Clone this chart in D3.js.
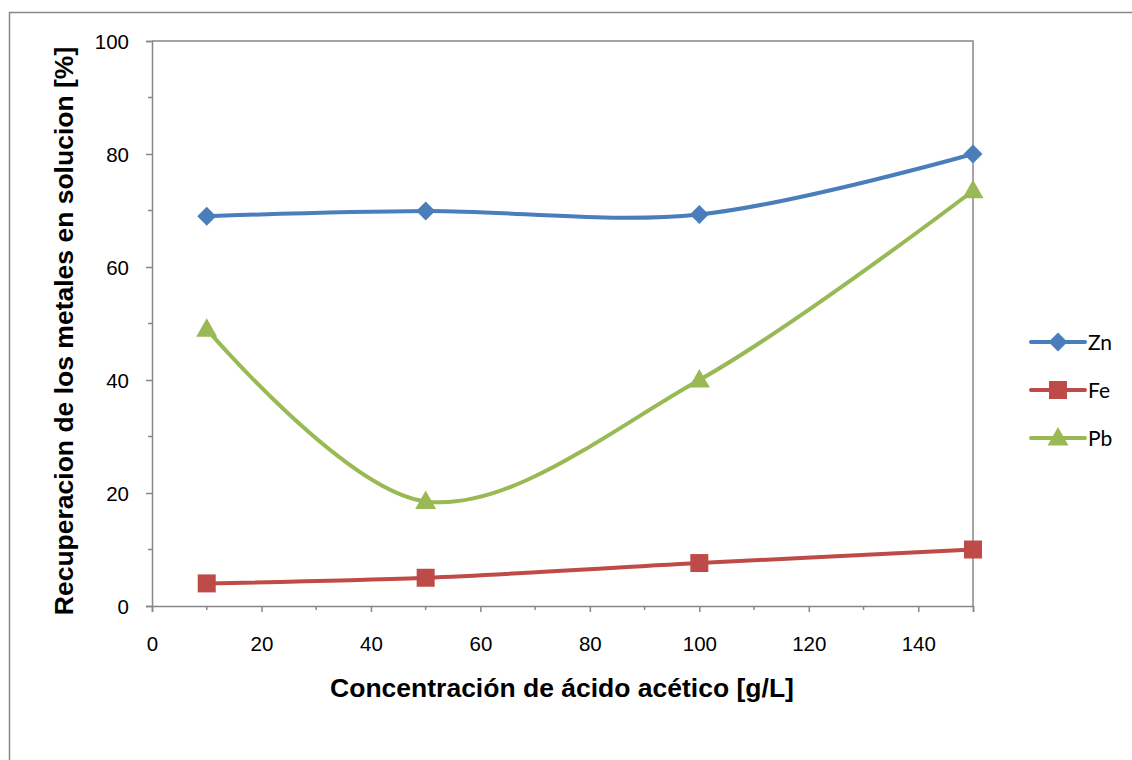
<!DOCTYPE html>
<html>
<head>
<meta charset="utf-8">
<script src="https://cdn.jsdelivr.net/npm/d3@7"></script>
<style>
  body { margin: 0; background: #fff; }
  svg { display: block; }
</style>
</head>
<body>
<div id="chart"></div>
<script>
// data
const concentracion = [10, 50, 100, 150];
const zn = [69.0, 69.9, 69.3, 80.0];
const fe = [4.0, 5.0, 7.6, 10.0];
const pb = [49.0, 18.5, 40.0, 73.5];
const seriesNames = ["Zn", "Fe", "Pb"];
const xTicks = [0, 20, 40, 60, 80, 100, 120, 140];
const yTicks = [0, 20, 40, 60, 80, 100];

const width = 1132, height = 760;
const margin = { top: 41, left: 152, right: 159, bottom: 154 };

const svg = d3.select("#chart").append("svg")
  .attr("width", width).attr("height", height);

// outer chart frame (right/bottom edges fall outside the picture)
svg.append("path")
  .attr("d", `M9.5,${height + 5} V12.5 H${width + 5}`)
  .attr("fill", "none").attr("stroke", "#868686").attr("stroke-width", 1.5);

const x = d3.scaleLinear().domain([0, 150]).range([margin.left, width - margin.right]);
const y = d3.scaleLinear().domain([0, 100]).range([height - margin.bottom, margin.top]);

// plot box top + right
svg.append("path")
  .attr("d", `M${x(0)},${y(100)} H${x(150)} V${y(0)}`)
  .attr("fill", "none").attr("stroke", "#868686").attr("stroke-width", 1.5);

// minor ticks
const minorX = d3.range(10, 150, 20);
const minorY = d3.range(10, 100, 20);
svg.append("g").selectAll("line").data(minorX).join("line")
  .attr("x1", d => x(d)).attr("x2", d => x(d))
  .attr("y1", y(0)).attr("y2", y(0) + 4)
  .attr("stroke", "#868686").attr("stroke-width", 1.5);
svg.append("g").selectAll("line").data(minorY).join("line")
  .attr("x1", x(0) - 4).attr("x2", x(0))
  .attr("y1", d => y(d)).attr("y2", d => y(d))
  .attr("stroke", "#868686").attr("stroke-width", 1.5);

const xAxis = d3.axisBottom(x).tickValues(xTicks.concat([150])).tickSize(6)
  .tickFormat(d => xTicks.includes(d) ? d : "");
const yAxis = d3.axisLeft(y).tickValues(yTicks).tickSize(6);

const gx = svg.append("g").attr("transform", `translate(0,${y(0)})`).call(xAxis);
const gy = svg.append("g").attr("transform", `translate(${x(0)},0)`).call(yAxis);
[gx, gy].forEach(g => {
  g.select(".domain").attr("stroke", "#868686").attr("stroke-width", 1.5);
  g.selectAll(".tick line").attr("stroke", "#868686").attr("stroke-width", 1.5);
  g.selectAll("text").attr("fill", "#000")
    .style("font-family", "'Liberation Sans', Arial, sans-serif").style("font-size", "20.5px");
});
gx.selectAll("text").attr("dy", "0").attr("y", 45);
gy.selectAll("text").attr("x", -23).attr("dy", "0.35em");

// titles
svg.append("text")
  .attr("x", 562).attr("y", 697)
  .attr("text-anchor", "middle")
  .style("font-family", "'Liberation Sans', Arial, sans-serif")
  .style("font-size", "26.5px").style("font-weight", "bold")
  .text("Concentración de ácido acético [g/L]");

svg.append("text")
  .attr("transform", `translate(73,331) rotate(-90)`)
  .attr("text-anchor", "middle")
  .style("font-family", "'Liberation Sans', Arial, sans-serif")
  .style("font-size", "26.5px").style("font-weight", "bold")
  .text("Recuperacion de los metales en solucion [%]");

const series = [
  { name: seriesNames[0], values: zn, color: "#4A7EBB", marker: "diamond" },
  { name: seriesNames[1], values: fe, color: "#BE4B48", marker: "square" },
  { name: seriesNames[2], values: pb, color: "#98B954", marker: "triangle" }
];

function markerPath(type) {
  if (type === "diamond") return "M0,-9.5 L9.5,0 L0,9.5 L-9.5,0 Z";
  if (type === "square") return "M-9,-9 H9 V9 H-9 Z";
  return "M0,-11 L10.5,7.5 L-10.5,7.5 Z";
}

const line = d3.line()
  .x(d => x(d[0])).y(d => y(d[1]))
  .curve(d3.curveCatmullRom.alpha(0.5));

series.forEach(s => {
  const pts = concentracion.map((c, i) => [c, s.values[i]]);
  svg.append("path")
    .datum(pts)
    .attr("d", line)
    .attr("fill", "none")
    .attr("stroke", s.color)
    .attr("stroke-width", 4)
    .attr("stroke-linecap", "round");
  svg.append("g").selectAll("path").data(pts).join("path")
    .attr("transform", d => `translate(${x(d[0])},${y(d[1])})`)
    .attr("d", markerPath(s.marker))
    .attr("fill", s.color);
});

// legend
const legend = svg.append("g").attr("transform", "translate(1031,342)");
series.forEach((s, i) => {
  const g = legend.append("g").attr("transform", `translate(0,${i * 48})`);
  g.append("line").attr("x1", 0).attr("x2", 54).attr("y1", 0).attr("y2", 0)
    .attr("stroke", s.color).attr("stroke-width", 4).attr("stroke-linecap", "round");
  g.append("path").attr("transform", "translate(27,0)")
    .attr("d", markerPath(s.marker)).attr("fill", s.color);
  g.append("text").attr("x", 57).attr("y", 0).attr("dy", "0.36em")
    .style("font-family", "Lato, 'Open Sans', sans-serif").style("font-size", "21px")
    .text(s.name);
});
</script>
</body>
</html>
